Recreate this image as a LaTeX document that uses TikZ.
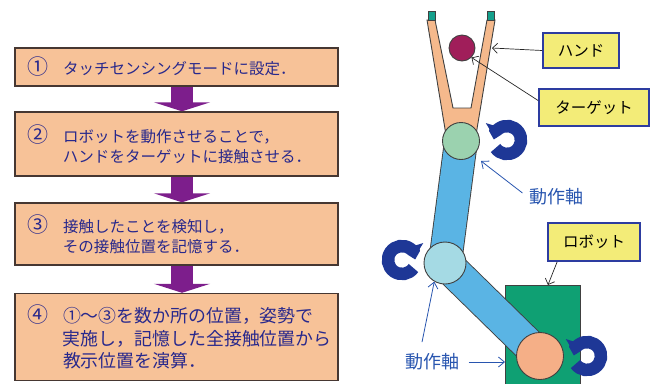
\documentclass[tikz,border=0pt]{standalone}
\usepackage{fontspec}
\setmainfont{Noto Sans CJK JP}
\usetikzlibrary{arrows.meta}

\definecolor{stepfill}{RGB}{247,194,152}
\definecolor{stepline}{RGB}{70,55,50}
\definecolor{steptext}{RGB}{40,40,140}
\definecolor{flowpurple}{RGB}{125,30,140}
\definecolor{tagfill}{RGB}{243,236,120}
\definecolor{tagline}{RGB}{45,60,160}
\definecolor{axisblue}{RGB}{40,85,175}
\definecolor{turnblue}{RGB}{30,55,150}
\definecolor{handpeach}{RGB}{245,185,140}
\definecolor{jointgreen}{RGB}{155,210,175}
\definecolor{jointcyan}{RGB}{165,218,228}
\definecolor{basepeach}{RGB}{245,175,135}
\definecolor{armblue}{RGB}{90,180,228}
\definecolor{targetred}{RGB}{160,30,90}
\definecolor{capteal}{RGB}{20,160,140}
\definecolor{basegreen}{RGB}{15,160,115}

\newcommand{\stepno}[1]{\makebox[36pt][l]{\fontsize{21pt}{19pt}\selectfont #1}}
\newcommand{\stepgap}{\hspace*{36pt}}

\tikzset{
  stepbox/.style={draw=stepline, line width=1.4pt, fill=stepfill, text=steptext,
    inner xsep=12pt, text width=299pt, align=left,
    font=\fontsize{15.5pt}{19.5pt}\selectfont},
  flowarrow/.style={draw=flowpurple, line width=22pt, -{Triangle[width=56pt,length=9pt]}},
  tagbox/.style={draw=tagline, line width=1.8pt, fill=tagfill,
    font=\fontsize{15.5pt}{16pt}\selectfont},
  callout/.style={draw=black!85, line width=0.7pt, -{Straight Barb[length=5pt,width=10pt]}},
  axiscallout/.style={draw=axisblue, line width=0.8pt, -{Straight Barb[length=6pt,width=10pt]}},
  axistext/.style={text=axisblue, font=\fontsize{18pt}{18pt}\selectfont},
  joint/.style={circle, draw=black!75, line width=0.9pt, inner sep=0pt},
  arm/.style={draw=black!75, line width=0.9pt, double=armblue, double distance=32pt},
  basebox/.style={draw=black!75, line width=0.9pt, fill=basegreen, inner sep=0pt},
  turnarrow/.style={draw=turnblue, line width=12.5pt, -{Triangle[width=22pt,length=10pt]}},
  spin/.pic={\draw[turnarrow] (215:14pt) arc[start angle=215, end angle=523, radius=14pt];}
}

\begin{document}
\begin{tikzpicture}[x=1pt, y=-1pt]
  \useasboundingbox (0,0) rectangle (652,383);
  \clip (0,0) rectangle (652,383);

  % procedure steps
  \node[stepbox, minimum height=38pt] (step1) at (176.5,67)
    {\stepno{①}タッチセンシングモードに設定．};
  \node[stepbox, minimum height=64pt] (step2) at (176.5,144)
    {\stepno{②}ロボットを動作させることで，\\\stepgap ハンドをターゲットに接触させる．};
  \node[stepbox, minimum height=62pt] (step3) at (176.5,234)
    {\stepno{③}接触したことを検知し，\\\stepgap その接触位置を記憶する．};
  \node[stepbox, minimum height=87pt, font=\fontsize{17.9pt}{22.5pt}\selectfont] (step4) at (176.5,337)
    {\stepno{④}①～③を数か所の位置，姿勢で\\\stepgap 実施し，記憶した全接触位置から\\\stepgap 教示位置を演算．};
  \foreach \a/\b in {step1/step2, step2/step3, step3/step4}
    \draw[flowarrow] ([xshift=5.5pt]\a.south) -- ([xshift=5.5pt]\b.north);

  % robot
  \coordinate (wrist) at (461,141);
  \coordinate (elbow) at (445,263);
  \coordinate (shoulder) at (540,356);
  \node[basebox, anchor=north west, minimum width=75pt, minimum height=110pt] (base) at (505,285) {};
  \draw[arm] (elbow) -- (shoulder);
  \draw[arm] (wrist) -- (elbow);
  \filldraw[fill=handpeach, draw=black!75, line width=0.9pt]
    (427,20) -- (435,20) -- (453,108) -- (471,108) -- (487,20) -- (495,20)
    -- (476,135) -- (446,135) -- cycle;
  \filldraw[fill=capteal, draw=black!75, line width=0.6pt] (428,11) rectangle (435,20);
  \filldraw[fill=capteal, draw=black!75, line width=0.6pt] (487,11) rectangle (494,20);
  \node[joint, fill=jointgreen, minimum size=37pt] (j1) at (wrist) {};
  \node[joint, fill=jointcyan, minimum size=42pt] (j2) at (elbow) {};
  \node[joint, fill=basepeach, minimum size=47pt] (j3) at (shoulder) {};
  \node[joint, fill=targetred, minimum size=26pt] (target) at (462,48) {};

  % rotation marks
  \pic at (507,140) {spin};
  \pic[xscale=-1] at (402,260) {spin};
  \pic at (587,356) {spin};

  % labels
  \node[tagbox, minimum width=76pt, minimum height=35pt] (handtag) at (581,50.5) {ハンド};
  \node[tagbox, minimum width=110pt, minimum height=37pt] (targettag) at (594,107.5) {ターゲット};
  \node[tagbox, minimum width=92pt, minimum height=38pt] (robottag) at (594,242) {ロボット};
  \coordinate (fingertip) at (492,48);
  \draw[callout] (handtag.west) -- (fingertip);
  \draw[callout] ([yshift=7pt]targettag.west) -- (target.south east);
  \draw[callout] ([xshift=10pt]robottag.south west) -- ([xshift=5pt]base.north);

  \node[axistext] (axisup) at (556,197) {動作軸};
  \node[axistext] (axisdown) at (432,362) {動作軸};
  \coordinate (wristside) at (481,161);
  \draw[axiscallout] ([shift={(-3pt,4pt)}]axisup.west) -- (wristside);
  \draw[axiscallout] ([xshift=-10pt,yshift=8pt]axisdown.north) -- (j2.240);
  \draw[axiscallout] ([xshift=6pt]axisdown.east) -- (axisdown.east -| base.west);
\end{tikzpicture}
\end{document}
